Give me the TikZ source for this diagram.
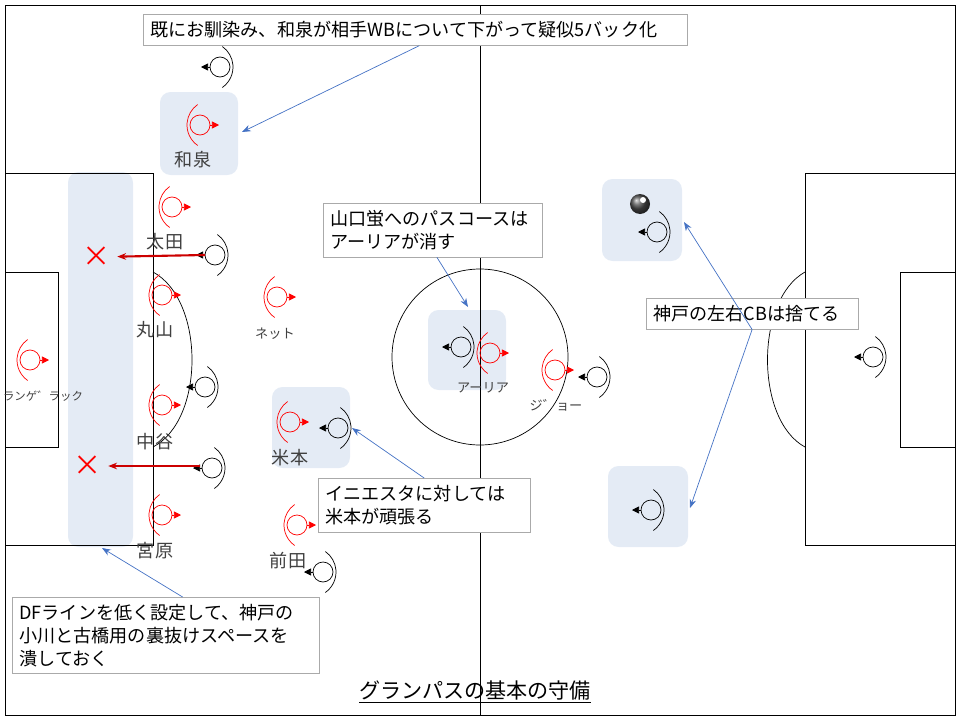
\documentclass[tikz,border=0pt]{standalone}
\usepackage{fontspec}
\setmainfont{Noto Sans CJK JP}
\usetikzlibrary{arrows.meta, positioning}
\definecolor{zonebg}{RGB}{228,235,245}
\definecolor{noteblue}{RGB}{68,114,196}
\definecolor{notegray}{RGB}{170,170,170}

\begin{document}
\begin{tikzpicture}[
    x=0.02cm, y=-0.02cm,
    font=\fontsize{10.3}{13}\selectfont,
    zone/.style={fill=zonebg, draw=none, rounded corners=6pt},
    note/.style={draw=notegray, fill=white, align=left, inner sep=4pt, anchor=north west},
    pointer/.style={draw=noteblue, -{Stealth[length=5pt]}},
    cross/.style={red, font=\fontsize{16}{16}\selectfont},
    runline/.style={draw=red!80!black, line width=1.2pt, -{Stealth[length=5pt]}},
    label/.style={text=black!75},
    redpl/.pic={
        \draw[red] (0,0) circle (10);
        \draw[red] (12,0) ++(125:25) arc (125:235:25);
        \draw[red, -{Triangle[length=4pt,width=4pt]}] (10,0) -- (19,0);
    },
    blkpl/.pic={
        \draw (0,0) circle (10);
        \draw (-12,0) ++(55:25) arc (55:-55:25);
        \draw[-{Triangle[length=4pt,width=4pt]}] (-10,0) -- (-19,0);
    }
]
    \useasboundingbox (0,0) rectangle (960,720);

    % zones
    \fill[zone] (160,92) rectangle (238,175);
    \fill[zone] (68,172) rectangle (133,547);
    \fill[zone] (272,387) rectangle (350,468);
    \fill[zone] (428,310) rectangle (506,390);
    \fill[zone] (602,179) rectangle (682,261);
    \fill[zone] (608,466) rectangle (688,547);

    % pitch
    \draw (5,5) rectangle (955,715);
    \draw (480,5) -- (480,715);
    \draw (480,357) circle (88);
    \draw (5,173) rectangle (153,545);
    \draw (5,272) rectangle (58,447);
    \draw (955,173) rectangle (805,545);
    \draw (955,272) rectangle (900,447);
    \draw (153,272) .. controls (205,300) and (205,420) .. (153,447);
    \draw (805,272) .. controls (755,300) and (755,420) .. (805,447);

    % Nagoya players
    \pic at (200,125) {redpl};
    \pic at (172,207) {redpl};
    \pic at (162,295) {redpl};
    \pic at (30,360) {redpl};
    \pic at (162,405) {redpl};
    \pic at (162,515) {redpl};
    \pic at (277,297) {redpl};
    \pic at (290,422) {redpl};
    \pic at (297,525) {redpl};
    \pic at (490,353) {redpl};
    \pic at (555,370) {redpl};

    \node[label] (izumi) at (193,160) {和泉};
    \node[label] (ota) at (165,242) {太田};
    \node[label] (maruyama) at (155,330) {丸山};
    \node[label, font=\fontsize{6.5}{8}\selectfont, inner sep=0pt] (langerak) at (43,396) {ランゲ゛ラック};
    \node[label] (nakatani) at (155,442) {中谷};
    \node[label] (miyahara) at (155,551) {宮原};
    \node[label, font=\fontsize{7.5}{9}\selectfont] (netto) at (275,334) {ネット};
    \node[label] (yonemoto) at (290,458) {米本};
    \node[label] (maeda) at (288,561) {前田};
    \node[label, font=\fontsize{7.5}{9}\selectfont] (aria) at (483,388) {アーリア};
    \node[label, font=\fontsize{7.5}{9}\selectfont] (jo) at (556,405) {ジ゛ョー};

    % Kobe players
    \pic at (220,67) {blkpl};
    \pic at (215,255) {blkpl};
    \pic at (205,387) {blkpl};
    \pic at (212,468) {blkpl};
    \pic at (338,428) {blkpl};
    \pic at (323,572) {blkpl};
    \pic at (461,347) {blkpl};
    \pic at (597,377) {blkpl};
    \pic at (657,232) {blkpl};
    \pic at (651,510) {blkpl};
    \pic at (873,357) {blkpl};
    \shade[ball color=black!70] (640,204) circle (10);
    \fill[white] (643,200) circle (3);

    % runs in behind
    \coordinate (runA) at (205,255);
    \coordinate (runB) at (200,466);
    \node[cross] (xa) at (97,257) {×};
    \node[cross] (xb) at (88,466) {×};
    \draw[runline] (runA) -- (xa);
    \draw[runline] (runB) -- (xb);

    % notes
    \node[note, text width=10.6cm] (n1) at (143,14) {既にお馴染み、和泉が相手WBについて下がって疑似5バック化};
    \node[note, text width=4.1cm] (n2) at (323,203) {山口蛍へのパスコースは\\アーリアが消す};
    \node[note, text width=3.95cm] (n3) at (646,298) {神戸の左右CBは捨てる};
    \node[note, text width=3.95cm] (n4) at (318,478) {イニエスタに対しては\\米本が頑張る};
    \node[note, text width=5.85cm] (n5) at (12,597) {DFラインを低く設定して、神戸の\\小川と古橋用の裏抜けスペースを\\潰しておく};
    \coordinate (t1) at (242,132);
    \coordinate (t2) at (468,307);
    \coordinate (t3a) at (684,222);
    \coordinate (t3b) at (690,508);
    \coordinate (t4) at (352,428);
    \coordinate (t5) at (102,548);
    \draw[pointer] (n1.south) ++(4,0) -- (t1);
    \draw[pointer] (n2.south) ++(4,0) -- (t2);
    \draw[pointer] (n3.south) -- (t3a);
    \draw[pointer] (n3.south) -- (t3b);
    \draw[pointer] (n4.north) -- (t4);
    \draw[pointer] (n5.north) ++(17,0) -- (t5);

    \node[font=\fontsize{12}{14}\selectfont\itshape] (title) at (475,692) {\underline{グランパスの基本の守備}};
\end{tikzpicture}
\end{document}
